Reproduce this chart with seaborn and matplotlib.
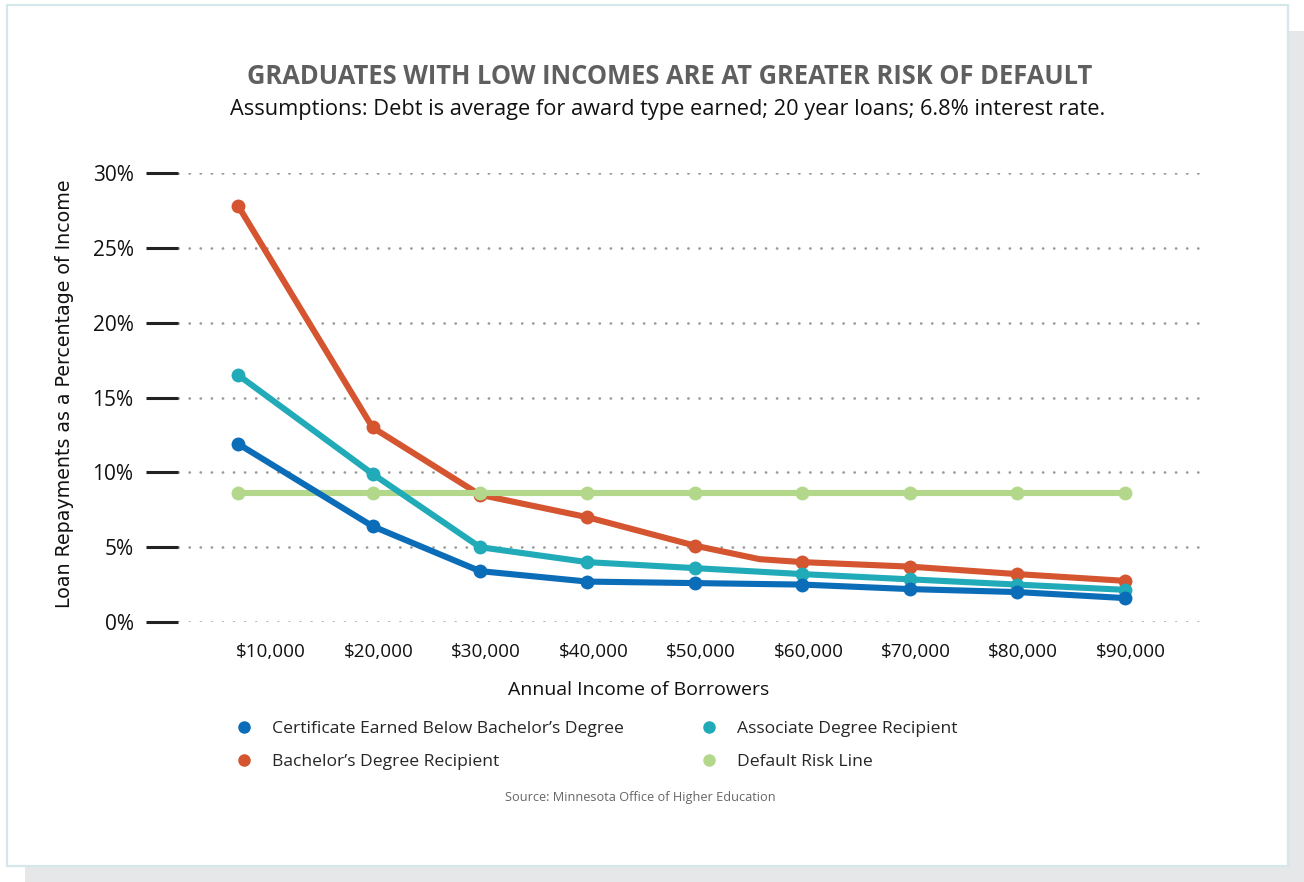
import numpy as np
import pandas as pd
import matplotlib
matplotlib.use('Agg')
import matplotlib.pyplot as plt
import matplotlib.transforms as mtransforms
from matplotlib.lines import Line2D
from matplotlib.patches import Rectangle
from matplotlib.ticker import FuncFormatter
import seaborn as sns

# values (percent of income)
income = [7500, 20000, 30000, 40000, 50000, 60000, 70000, 80000, 90000]
certificate = [11.9, 6.4, 3.4, 2.7, 2.6, 2.5, 2.2, 2.0, 1.6]
associate = [16.5, 9.9, 5.0, 4.0, 3.6, 3.2, 2.85, 2.5, 2.15]
bachelor = [27.8, 13.0, 8.5, 7.0, 5.1, 4.0, 3.7, 3.2, 2.75]
default_risk = [8.6, 8.6, 8.6, 8.6, 8.6, 8.6, 8.6, 8.6, 8.6]
# bachelor's line has an extra bend between $50k and $60k (no marker)
bachelor_bend_x = 56000
bachelor_bend_y = 4.2

series_names = ["Certificate Earned Below Bachelor\u2019s Degree",
                "Associate Degree Recipient",
                "Bachelor\u2019s Degree Recipient",
                "Default Risk Line"]
colors = {series_names[0]: '#0b6cb8',
          series_names[1]: '#21abb9',
          series_names[2]: '#d4552f',
          series_names[3]: '#b3d88b'}
xticks = [10000, 20000, 30000, 40000, 50000, 60000, 70000, 80000, 90000]
yticks = [0, 5, 10, 15, 20, 25, 30]

pts = pd.DataFrame({
    'income': income * 4,
    'pct': certificate + associate + bachelor + default_risk,
    'series': np.repeat(series_names, len(income)),
})
bend = pd.DataFrame({'income': [bachelor_bend_x], 'pct': [bachelor_bend_y],
                     'series': [series_names[2]]})
lines = pd.concat([pts, bend]).sort_values(['series', 'income'])

sns.set_theme(style='white')
plt.rcParams['font.family'] = ['Open Sans', 'DejaVu Sans']

fig = plt.figure(figsize=(13.04, 8.82), dpi=100)
W, H = 1304, 882

# card background with shadow
fig.add_artist(Rectangle((25 / W, 0), 1 - 25 / W, 1 - 31 / H, transform=fig.transFigure,
                         facecolor='#e5e7e8', edgecolor='none', zorder=-5))
fig.add_artist(Rectangle((7 / W, 16 / H), (1288 - 7) / W, (866 - 5) / H, transform=fig.transFigure,
                         facecolor='white', edgecolor='#d6e7eb', linewidth=1.6, zorder=-4))

ax = fig.add_axes([178 / W, 260 / H, (1200 - 178) / W, (622 - 173) / H])
ax.set_facecolor('none')

order = [series_names[2], series_names[3], series_names[1], series_names[0]]
for i, name in enumerate(order):
    sns.lineplot(data=lines[lines.series == name], x='income', y='pct', color=colors[name],
                 linewidth=4.4, ax=ax, zorder=3 + i * 2, sort=True, estimator=None)
    sns.scatterplot(data=pts[pts.series == name], x='income', y='pct', color=colors[name],
                    s=100, linewidth=0, ax=ax, zorder=4 + i * 2, clip_on=False)

ax.set_xlim(1900, 97000)
ax.set_ylim(0, 30)
ax.set_xticks(xticks)
ax.set_yticks(yticks)
ax.xaxis.set_major_formatter(FuncFormatter(lambda v, p: '${:,.0f}'.format(v)))
ax.yaxis.set_major_formatter(FuncFormatter(lambda v, p: '{:.0f}%'.format(v)))
ax.grid(axis='y', color='#9a9a9a', linestyle=(0, (0.1, 4.1)), linewidth=1.9,
        dash_capstyle='round')
ax.grid(axis='x', visible=False)
for s in ax.spines.values():
    s.set_visible(False)
ax.tick_params(axis='y', length=23, width=2.2, color='#222222', pad=9, labelsize=15,
               labelcolor='#111111', left=True)
ax.tick_params(axis='x', length=0, pad=15, labelsize=13.6, labelcolor='#111111')
shift = mtransforms.ScaledTranslation(6 / 100, 0, fig.dpi_scale_trans)
for lbl in ax.get_xticklabels():
    lbl.set_transform(lbl.get_transform() + shift)
ax.set_xlabel('')
ax.set_ylabel('')

fig.text(670 / W, 1 - 77 / H, 'GRADUATES WITH LOW INCOMES ARE AT GREATER RISK OF DEFAULT',
         ha='center', va='center', fontsize=18.4, fontweight='bold', color='#5f5f5f')
fig.text(668 / W, 1 - 110 / H,
         'Assumptions: Debt is average for award type earned; 20 year loans; 6.8% interest rate.',
         ha='center', va='center', fontsize=15.7, color='#111111')
fig.text(65 / W, 1 - 394 / H, 'Loan Repayments as a Percentage of Income', rotation=90,
         ha='center', va='center', fontsize=13.7, color='#111111', family='DejaVu Sans')
fig.text(639 / W, 1 - 690 / H, 'Annual Income of Borrowers', ha='center', va='center',
         fontsize=14, color='#111111')
fig.text(640 / W, 1 - 797 / H, 'Source: Minnesota Office of Higher Education', ha='center',
         va='center', fontsize=9.2, color='#666666')

legend_order = [series_names[0], series_names[2], series_names[1], series_names[3]]
handles = [Line2D([], [], linestyle='none', marker='o', markersize=8, color=colors[n])
           for n in legend_order]
fig.legend(handles, legend_order, ncol=2, loc='upper left',
           bbox_to_anchor=(219 / W, 1 - 705 / H), frameon=False, fontsize=12.6,
           handletextpad=1.1, columnspacing=4.4, labelspacing=0.95, handlelength=1.0)

fig.savefig('out.png', dpi=100)
